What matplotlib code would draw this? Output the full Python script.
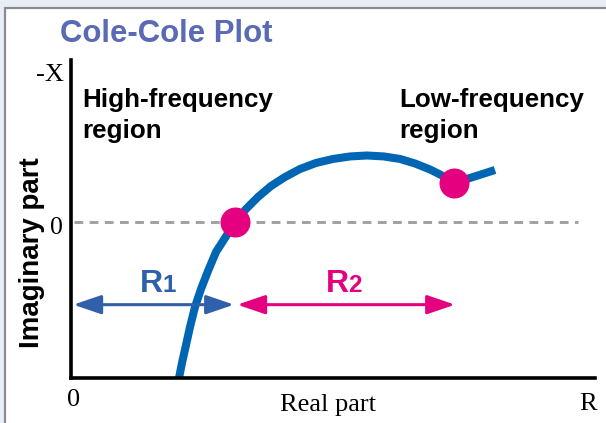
import matplotlib
matplotlib.use("Agg")
import matplotlib.pyplot as plt
from matplotlib.patches import Rectangle

# ---- data (arbitrary schematic units) ----
curve_x = [2.061, 2.118, 2.195, 2.271, 2.366, 2.481, 2.615, 2.767, 2.939, 3.130,
           3.340, 3.569, 3.817, 4.084, 4.370, 4.676, 5.000, 5.324, 5.649, 5.973,
           6.279, 6.565, 6.851, 7.099, 7.309, 7.672, 8.092]
curve_y = [-3.0, -2.712, -2.365, -2.019, -1.635, -1.288, -0.942, -0.577, -0.308, 0.0,
           0.250, 0.481, 0.692, 0.865, 1.019, 1.135, 1.212, 1.260, 1.279, 1.260,
           1.212, 1.125, 1.010, 0.885, 0.75, 0.865, 1.0]
dot_x = [3.13, 7.309]
dot_y = [0.0, 0.75]
zero_line_x = [0.05, 9.68]
zero_line_y = [0.0, 0.0]
r1_span = [0.044, 3.11]
r2_span = [3.173, 7.328]
span_y = -1.59

title = "Cole-Cole Plot"
hf_lines = ["High-frequency", "region"]
lf_lines = ["Low-frequency", "region"]

W, H = 606, 423
BLUE = "#0066b3"
ARROW_BLUE = "#3160aa"
PINK = "#e4007f"
TITLE_C = "#5a6ab4"
SANS = "Liberation Sans"
SERIF = "Liberation Serif"

fig = plt.figure(figsize=(W / 100, H / 100), dpi=100)
fig.patch.set_facecolor("#e9edf7")

# white panel with grey border
fig.patches.append(Rectangle((4.5 / W, -0.05), 1.2, (H - 8.5) / H + 0.05,
                             transform=fig.transFigure, facecolor="white",
                             edgecolor="#8c8c8c", linewidth=1.6, zorder=-10))


def P(x, y):
    return x / W, 1 - y / H


ax = fig.add_axes([71 / W, (H - 378) / H, (595 - 71) / W, (378 - 60) / H])
ax.set_zorder(1)
ax.set_facecolor("none")
ax.set_xlim(0, 10)
ax.set_ylim(-3.0, 3.115)
for s in ["top", "right"]:
    ax.spines[s].set_visible(False)
for s in ["left", "bottom"]:
    ax.spines[s].set_linewidth(2.6)
    ax.spines[s].set_color("black")
ax.set_xticks([])
ax.set_yticks([])

ax.plot(zero_line_x, zero_line_y, color="#a0a0a0", lw=2.1,
        linestyle=(0, (3.0, 2.2)), zorder=1)
ax.plot(curve_x, curve_y, color=BLUE, lw=5.8, solid_joinstyle="round",
        solid_capstyle="butt", zorder=2)
ax.plot(dot_x, dot_y, "o", color=PINK, markersize=21.6, markeredgewidth=0,
        zorder=4, clip_on=False)

arrow_kw = dict(arrowstyle="<|-|>,head_length=17,head_width=5.8",
                mutation_scale=1, shrinkA=0, shrinkB=0, lw=2.2)
ax.annotate("", xy=(r1_span[1], span_y), xytext=(r1_span[0], span_y),
            arrowprops=dict(color=ARROW_BLUE, **arrow_kw), zorder=3)
ax.annotate("", xy=(r2_span[1], span_y), xytext=(r2_span[0], span_y),
            arrowprops=dict(color=PINK, **arrow_kw), zorder=3)

# texts
fig.text(*P(166, 42.5), title, color=TITLE_C, fontsize=22.4, fontweight="bold",
         family=SANS, ha="center", va="baseline")
for i, yb in enumerate([107, 138]):
    fig.text(*P(82, yb), hf_lines[i], fontsize=18.7, fontweight="bold", family=SANS,
             ha="left", va="baseline")
    fig.text(*P(399.5, yb), lf_lines[i], fontsize=18.7, fontweight="bold", family=SANS,
             ha="left", va="baseline")
fig.text(*P(32, 252.5), "Imaginary part", fontsize=20, fontweight="bold",
         family=SANS, rotation=90, ha="center", va="center")

fig.text(*P(139.5, 292), "R", color=ARROW_BLUE, fontsize=23, family=SANS,
         fontweight="bold", ha="left", va="baseline")
fig.text(*P(162, 292), "1", color=ARROW_BLUE, fontsize=17.5, family=SANS,
         fontweight="bold", ha="left", va="baseline")
fig.text(*P(325.5, 292), "R", color=PINK, fontsize=23, family=SANS,
         fontweight="bold", ha="left", va="baseline")
fig.text(*P(348, 292), "2", color=PINK, fontsize=17.5, family=SANS,
         fontweight="bold", ha="left", va="baseline")

fig.text(*P(63.5, 81), "-X", fontsize=19, family=SERIF, ha="right", va="baseline")
fig.text(*P(56.5, 233.5), "0", fontsize=18.5, family=SERIF, ha="center", va="baseline")
fig.text(*P(74, 406), "0", fontsize=19, family=SERIF, ha="center", va="baseline")
fig.text(*P(327.5, 411), "Real part", fontsize=19, family=SERIF, ha="center",
         va="baseline")
fig.text(*P(588.5, 410), "R", fontsize=19, family=SERIF, ha="center", va="baseline")

fig.savefig("out.png", dpi=100, facecolor=fig.get_facecolor())
